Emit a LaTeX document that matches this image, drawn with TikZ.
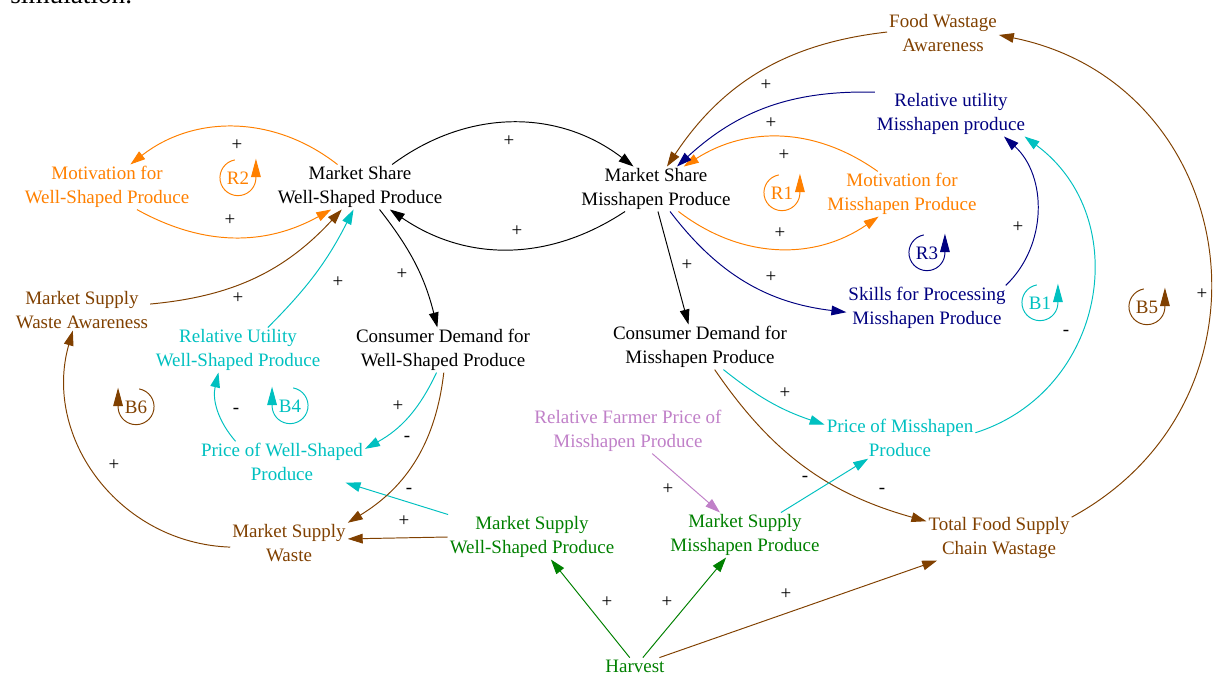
\documentclass[tikz,border=0pt]{standalone}
\usepackage{fontspec}
\setmainfont{Liberation Serif}
\newfontfamily\cldfont{Liberation Serif}
\usetikzlibrary{arrows.meta}
\definecolor{cldorange}{RGB}{255, 128, 0}
\definecolor{cldbrown}{RGB}{128, 64, 0}
\definecolor{cldnavy}{RGB}{0, 0, 128}
\definecolor{cldcyan}{RGB}{0, 192, 192}
\definecolor{cldgreen}{RGB}{0, 128, 0}
\definecolor{cldlilac}{RGB}{192, 128, 200}
\newcommand{\varfont}{\cldfont\fontsize{10.8}{13.4}\selectfont}

\begin{document}
\begin{tikzpicture}[x=0.02cm, y=0.02cm,
  var/.style={align=center, inner sep=1pt, font=\varfont},
  link/.style={-{Triangle[length=8.5pt, width=5.5pt]}, line width=0.55pt},
  sign/.style={font=\varfont, inner sep=0pt},
  looptag/.style={circle, minimum size=0.72cm, inner sep=0pt, font=\varfont},
  looptip/.style={-{Triangle[length=10.5pt, width=5.5pt]}, line width=0.55pt}]
  \useasboundingbox (0, 0) rectangle (1215, -674);

  % Cut-off page text
  \node[anchor=base west, inner sep=0pt, font=\cldfont\fontsize{15.5}{18}\selectfont] (pagetext) at (10, -3) {simulation.};

  % Market share
  \node[var] (MSW) at (360, -187) {Market Share\\Well-Shaped Produce};
  \node[var] (MSM) at (656, -189) {Market Share\\Misshapen Produce};

  % Motivation and utility
  \node[var, text=cldorange] (MotW) at (107, -187) {Motivation for\\Well-Shaped Produce};
  \node[var, text=cldorange] (MotM) at (902, -194) {Motivation for\\Misshapen Produce};
  \node[var, text=cldnavy] (RUM) at (951, -114) {Relative utility\\Misshapen produce};
  \node[var, text=cldnavy] (SkP) at (927, -308) {Skills for Processing\\Misshapen Produce};
  \node[var, text=cldcyan] (RUW) at (238, -350) {Relative Utility\\Well-Shaped Produce};

  % Demand and price
  \node[var] (CDW) at (443, -350) {Consumer Demand for\\Well-Shaped Produce};
  \node[var] (CDM) at (700, -347) {Consumer Demand for\\Misshapen Produce};
  \node[var, text=cldcyan] (PW) at (282, -462) {Price of Well-Shaped\\Produce};
  \node[var, text=cldcyan] (PM) at (900, -438) {Price of Misshapen\\Produce};
  \node[var, text=cldlilac] (RFP) at (628, -431) {Relative Farmer Price of\\Misshapen Produce};

  % Supply and waste
  \node[var, text=cldbrown] (FWA) at (943, -33) {Food Wastage\\Awareness};
  \node[var, text=cldbrown] (MSWA) at (82, -310) {Market Supply\\Waste Awareness};
  \node[var, text=cldbrown] (MSWaste) at (289, -543) {Market Supply\\Waste};
  \node[var, text=cldgreen] (MSupW) at (532, -537) {Market Supply\\Well-Shaped Produce};
  \node[var, text=cldgreen] (MSupM) at (745, -535) {Market Supply\\Misshapen Produce};
  \node[var, text=cldbrown] (TFSCW) at (999, -538) {Total Food Supply\\Chain Wastage};
  \node[var, text=cldgreen] (Harvest) at (635, -666) {Harvest};

  % Links between market shares
  \draw[link] (MSW.35) to[bend left=37] (MSM.135);
  \draw[link] (MSM.216) to[bend left=34] (MSW.323);

  % Links into and out of well-shaped share
  \draw[link, cldorange] (MSW.135) to[bend right=38] (MotW.44);
  \draw[link, cldorange] (MotW.323) to[bend right=29] (MSW.218);
  \draw[link, cldbrown] (MSWA.5) to[bend right=21] (MSW.231);
  \draw[link, cldcyan] (RUW.37) to[bend right=9] (MSW.254);
  \draw[link] (MSW.311) to[bend left=12] (CDW.104);

  % Links into and out of misshapen share
  \draw[link] (MSM.275) -- (CDM.117);
  \draw[link, cldnavy] (MSM.302) to[bend right=23] (SkP.183);
  \draw[link, cldorange] (MSM.315) to[bend right=36] (MotM.224);
  \draw[link, cldorange] (MotM.137) to[bend right=34] (MSM.39);
  \draw[link, cldnavy] (RUM.164) to[bend right=22] (MSM.47);
  \draw[link, cldbrown] (FWA.179) to[bend right=25] (MSM.64);
  \draw[link, cldnavy] (SkP.16) to[bend right=47] (RUM.337);
  \draw[link, cldcyan] (PM.4) to[bend right=63, looseness=1.17] (RUM.343);
  \draw[link, cldbrown] (TFSCW.16) to[bend right=70, looseness=1.3] (FWA.358);

  % Demand, price and supply
  \draw[link, cldcyan] (CDM.316) to[bend right=10] (PM.170);
  \draw[link, cldbrown] (CDM.303) to[bend right=20] (TFSCW.167);
  \draw[link, cldcyan] (MSupM.32) -- (PM.213);
  \draw[link, cldlilac] (RFP.317) -- (MSupM.138);
  \draw[link, cldgreen] (Harvest.122) -- (MSupW.310);
  \draw[link, cldgreen] (Harvest.47) -- (MSupM.230);
  \draw[link, cldbrown] (Harvest.19) -- (TFSCW.200);
  \draw[link, cldbrown] (MSupW.west) -- (MSWaste.4);
  \draw[link, cldcyan] (MSupW.165) -- (PW.342);
  \draw[link, cldcyan] (CDW.254) to[bend left=18] (PW.9);
  \draw[link, cldbrown] (CDW.272) to[bend left=26] (MSWaste.19);
  \draw[link, cldbrown] (MSWaste.184) to[bend left=52, looseness=1.06] (MSWA.246);
  \draw[link, cldcyan] (PW.156) to[bend left=27] (RUW.229);

  % Polarities
  \foreach \x/\y/\s [count=\i] in {509/141/+, 517/231/+, 237/145/+, 230/220/+,
      238/298/+, 338/282/+, 402/274/+, 687/265/+, 771/277/+, 780/233/+,
      784/155/+, 771/123/+, 766/85/+, 1018/227/+, 1066/333/-, 1202/294/+,
      785/393/+, 882/491/-, 805/479/-, 668/489/+, 607/602/+, 667/602/+,
      786/594/+, 404/521/+, 409/491/-, 398/406/+, 407/439/-, 114/465/+,
      236/411/-}
    \node[sign] (sign\i) at (\x, -\y) {\s};

  % Loop markers
  \foreach \nm/\x/\y/\col in {R2/238/178/cldorange, R1/782/193/cldorange,
      R3/927/253/cldnavy, B1/1040/303/cldcyan, B5/1147/307/cldbrown} {
    \node[looptag, text=\col] (\nm) at (\x, -\y) {\nm};
    \draw[looptip, \col] (\nm.100) arc[start angle=100, end angle=360, radius=0.36cm] -- ++(0, 19);
  }
  \foreach \nm/\x/\y/\col in {B6/136/407/cldbrown, B4/290/406/cldcyan} {
    \node[looptag, text=\col] (\nm) at (\x, -\y) {\nm};
    \draw[looptip, \col] (\nm.80) arc[start angle=80, end angle=-180, radius=0.36cm] -- ++(0, 19);
  }
\end{tikzpicture}
\end{document}
